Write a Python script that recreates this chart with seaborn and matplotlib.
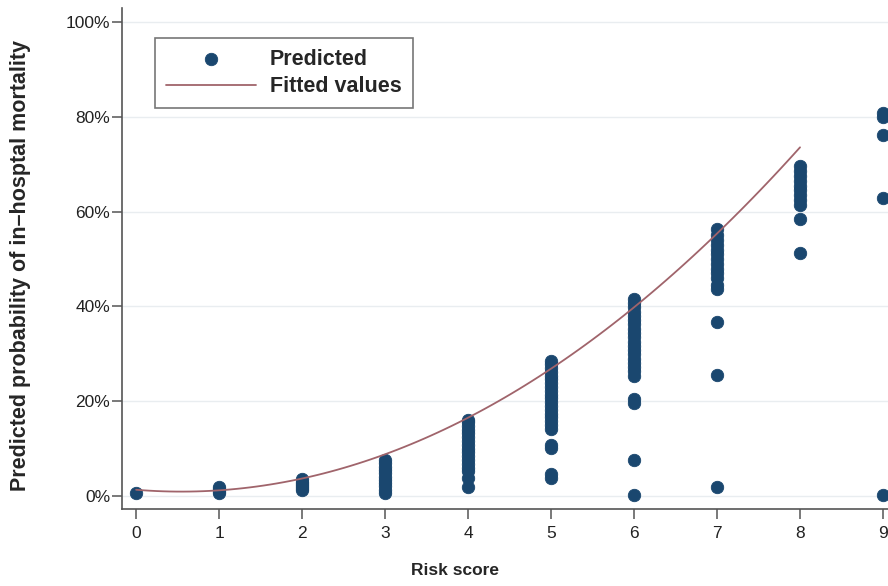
import pandas as pd
import matplotlib
matplotlib.use("Agg")
import matplotlib.pyplot as plt
import seaborn as sns
from matplotlib.ticker import FuncFormatter

# predicted probability (%) per risk score
pred_0 = [0.7]
pred_1 = [0.6, 1.0, 1.4, 1.8]
pred_2 = [1.2, 1.6, 2.0, 2.5, 3.0, 3.5]
pred_3 = [0.7, 1.3, 2.0, 2.7, 3.4, 4.1, 4.8, 5.5, 6.2, 6.9, 7.6]
pred_4 = [1.8, 3.8, 5.2, 6.0, 6.8, 7.6, 8.4, 9.2, 10.0, 10.8, 11.6,
          12.4, 13.2, 14.0, 14.8, 15.6, 16.0]
pred_5 = [3.8, 4.6, 10.2, 10.8, 14.2, 15.0, 15.8, 16.6, 17.4, 18.2, 19.0,
          19.8, 20.6, 21.4, 22.2, 23.0, 23.8, 24.6, 25.4, 26.2, 27.0, 27.8, 28.5]
pred_6 = [0.1, 7.6, 19.6, 20.5, 25.4, 26.3, 27.2, 28.1, 29.0, 29.9, 30.8,
          31.7, 32.6, 33.5, 34.4, 35.3, 36.2, 37.1, 38.0, 38.9, 39.8, 40.7, 41.6]
pred_7 = [1.9, 25.6, 36.7, 43.6, 44.5, 46.0, 47.0, 48.0, 49.0, 50.0, 51.0,
          52.0, 53.0, 54.0, 55.0, 56.4]
pred_8 = [51.3, 58.5, 61.5, 62.5, 63.5, 64.5, 65.5, 66.5, 67.5, 68.5, 69.7]
pred_9 = [0.2, 62.8, 76.2, 80.0, 80.8]

predicted = [pred_0, pred_1, pred_2, pred_3, pred_4,
             pred_5, pred_6, pred_7, pred_8, pred_9]

# fitted values (%) at each risk score 0-8
fit_x = [0, 1, 2, 3, 4, 5, 6, 7, 8]
fit_y = [1.3, 1.2, 3.7, 8.8, 16.5, 26.9, 39.8, 55.4, 73.6]

rows = []
for score, vals in enumerate(predicted):
    for v in vals:
        rows.append({"score": score, "prob": v})
df = pd.DataFrame(rows)
df_fit = pd.DataFrame({"score": fit_x, "prob": fit_y})

sns.set_style("white")
plt.rcParams["font.family"] = ["Liberation Sans", "DejaVu Sans"]

fig = plt.figure(figsize=(8.88, 5.86), dpi=100)
ax = fig.add_axes([122 / 888, 77 / 586, 766 / 888, 501 / 586])

navy = "#1a476f"
maroon = "#a0646b"

sns.scatterplot(data=df, x="score", y="prob", ax=ax, color=navy, s=80,
                edgecolor=navy, linewidth=0.6, label="Predicted", zorder=3)
# quadratic fit through the fitted values (Stata-style qfit line)
sns.regplot(data=df_fit, x="score", y="prob", ax=ax, order=2, ci=None,
            scatter=False, truncate=True, label="Fitted values",
            line_kws={"color": maroon, "linewidth": 1.3, "zorder": 4})

ax.set_xlim(-0.17, 9.06)
ax.set_ylim(-2.75, 103)
ax.set_xticks(range(10))
ax.set_yticks([0, 20, 40, 60, 80, 100])
ax.yaxis.set_major_formatter(FuncFormatter(lambda v, p: f"{v:.0f}%"))

ax.grid(axis="y", color="#e9edf0", linewidth=1)
ax.set_axisbelow(True)
for side in ["top", "right"]:
    ax.spines[side].set_visible(False)
for side in ["left", "bottom"]:
    ax.spines[side].set_color("#555555")
    ax.spines[side].set_linewidth(1.2)

ax.tick_params(axis="both", direction="out", length=7, width=1.1,
               color="#555555", labelsize=12.5, labelcolor="#222222",
               left=True, bottom=True)
ax.tick_params(axis="y", pad=1.5)
ax.tick_params(axis="x", pad=5)

ax.set_xlabel("Risk score", fontsize=12.5, fontweight="bold")
ax.set_ylabel("Predicted probability of in\u2013hosptal mortality",
              fontsize=15.5, fontweight="bold")
ax.xaxis.set_label_coords(0.435, -0.108)
ax.xaxis.label.set_va("top")
ax.yaxis.set_label_coords(-0.119, 0.487)

leg = ax.legend(loc="upper left", bbox_to_anchor=(0.043, 0.94),
                borderaxespad=0, frameon=True, fancybox=False,
                edgecolor="#555555", handlelength=4.2, handletextpad=0.65,
                borderpad=0.5, labelspacing=0.3,
                prop={"weight": "bold", "size": 15.5})
leg.get_frame().set_linewidth(1.2)

fig.savefig("out.png", dpi=100)
